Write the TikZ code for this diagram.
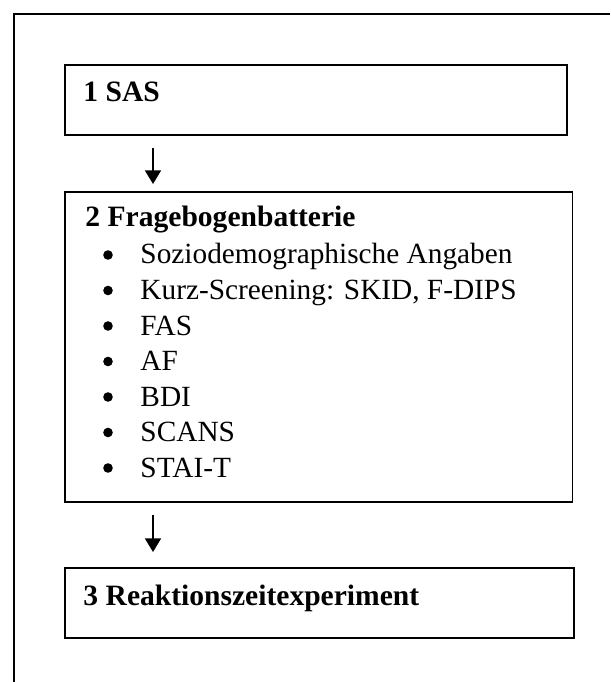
\documentclass[tikz,border=0pt]{standalone}
\usepackage{fontspec}
\setmainfont{Liberation Serif}
\usetikzlibrary{arrows.meta}

\tikzset{
  stepbox/.style={draw, line width=0.65pt, anchor=north west, inner sep=0pt},
  boxtitle/.style={anchor=base west, inner sep=0pt, font=\fontsize{12}{14}\selectfont\bfseries},
  listtext/.style={anchor=base west, inner sep=0pt, font=\fontsize{11.9}{14}\selectfont},
  bulletdot/.style={circle, fill, inner sep=0pt, minimum size=3.9pt},
  flowarrow/.style={line width=0.55pt, -{Triangle[width=6.5pt,length=5.5pt]}},
}

\begin{document}
\begin{tikzpicture}[x=0.406pt,y=-0.406pt]
  \useasboundingbox (0,0) rectangle (610,682);
  % outer frame (runs off at right and bottom)
  \draw[line width=0.9pt] (14,682) -- (14,14) -- (610,14);

  % step 1
  \node[stepbox, minimum width=203.8pt, minimum height=28.4pt] (sas) at (64,64) {};
  \node[boxtitle] (sastext) at (83,102) {1 SAS};

  % step 2
  \node[stepbox, minimum width=206.2pt, minimum height=125.9pt] (batterie) at (64,191) {};
  \node[boxtitle] (batterietext) at (85,227) {2 Fragebogenbatterie};
  \foreach \txt [count=\i] in {Soziodemographische Angaben, {Kurz-Screening: SKID, F-DIPS}, FAS, AF, BDI, SCANS, STAI-T} {
    \node[bulletdot] (dot\i) at (108, 219.5+35.5*\i) {};
    \node[listtext] (item\i) at (140, 228.5+35.5*\i) {\txt};
  }

  % step 3
  \node[stepbox, minimum width=206.7pt, minimum height=28.4pt] (rzexp) at (64,567) {};
  \node[boxtitle] (rzexptext) at (83,605) {3 Reaktionszeitexperiment};

  % arrows
  \coordinate (arrowAtop) at (153,148);
  \coordinate (arrowAend) at (153,184);
  \coordinate (arrowBtop) at (153,515);
  \coordinate (arrowBend) at (153,552);
  \draw[flowarrow] (arrowAtop) -- (arrowAend);
  \draw[flowarrow] (arrowBtop) -- (arrowBend);
\end{tikzpicture}
\end{document}
